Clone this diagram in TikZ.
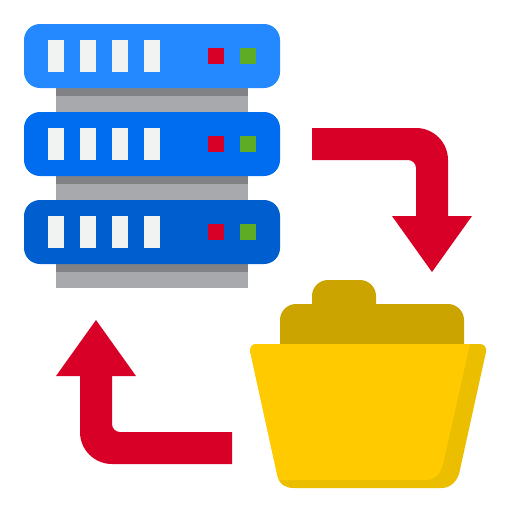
\documentclass[tikz,border=0pt]{standalone}
\definecolor{blueA}{HTML}{2488FF}
\definecolor{blueB}{HTML}{006DF0}
\definecolor{blueC}{HTML}{005ECE}
\definecolor{grayL}{HTML}{A7A9AC}
\definecolor{grayD}{HTML}{808285}
\definecolor{slot}{HTML}{F1F2F2}
\definecolor{alert}{HTML}{D80027}
\definecolor{okgreen}{HTML}{5EAC24}
\definecolor{folderA}{HTML}{FFCB00}
\definecolor{folderB}{HTML}{EBBF00}
\definecolor{folderC}{HTML}{CCA400}
\tikzset{
  flat/.style={line width=0pt,draw=none},
  bar/.style={flat,rounded corners=16},
}
\newcommand{\serverrow}[2]{%
  \fill[grayL] (56,#1+64) rectangle (248,#1+88);
  \fill[grayD] (56,#1+64) rectangle (248,#1+72);
  \fill[#2,bar] (24,#1) rectangle (280,#1+64);
  \foreach \sx in {48,80,112,144}
    \fill[slot] (\sx,#1+16) rectangle (\sx+16,#1+48);
  \fill[alert] (208,#1+24) rectangle (224,#1+40);
  \fill[okgreen] (240,#1+24) rectangle (256,#1+40);
}
\begin{document}
\begin{tikzpicture}[x=1pt,y=-1pt]
\useasboundingbox (0,0) rectangle (512,512);
\serverrow{24}{blueA}
\serverrow{112}{blueB}
\serverrow{200}{blueC}
% arrows
\fill[alert] (312,128) -- (416,128) .. controls (433.7,128) and (448,142.3) .. (448,160)
  -- (448,216) -- (472,216) -- (432,272) -- (392,216) -- (416,216) -- (416,168)
  .. controls (416,163.6) and (412.4,160) .. (408,160) -- (312,160) -- cycle;
\fill[alert] (232,432) -- (120,432) .. controls (115.6,432) and (112,428.4) .. (112,424)
  -- (112,376) -- (136,376) -- (96,320) -- (56,376) -- (80,376) -- (80,432)
  .. controls (80,449.7) and (94.3,464) .. (112,464) -- (232,464) -- cycle;
% folder back
\fill[folderC] (280,344) -- (280,320) .. controls (280,311.2) and (287.2,304) .. (296,304)
  -- (312,304) -- (312,296) .. controls (312,287.2) and (319.2,280) .. (328,280)
  -- (360,280) .. controls (368.8,280) and (376,287.2) .. (376,296) -- (376,304)
  -- (448,304) .. controls (456.8,304) and (464,311.2) .. (464,320) -- (464,344) -- cycle;
% folder front, shade
\fill[folderB] (256,344) -- (480,344)
  .. controls (484.5,344) and (487,348) .. (486,352)
  -- (459.5,472) .. controls (457.5,481.5) and (450,488) .. (442,488)
  -- (294,488) .. controls (286,488) and (279.5,485) .. (277.5,476)
  -- (250.3,352) .. controls (249.3,348) and (252,344) .. (256,344) -- cycle;
% folder front, light
\fill[folderA] (256,344) -- (470,344) -- (443.5,462)
  .. controls (441.5,473) and (435,480) .. (426,480)
  -- (279.5,480) -- (277.5,476)
  -- (250.3,352) .. controls (249.3,348) and (252,344) .. (256,344) -- cycle;
\end{tikzpicture}
\end{document}
